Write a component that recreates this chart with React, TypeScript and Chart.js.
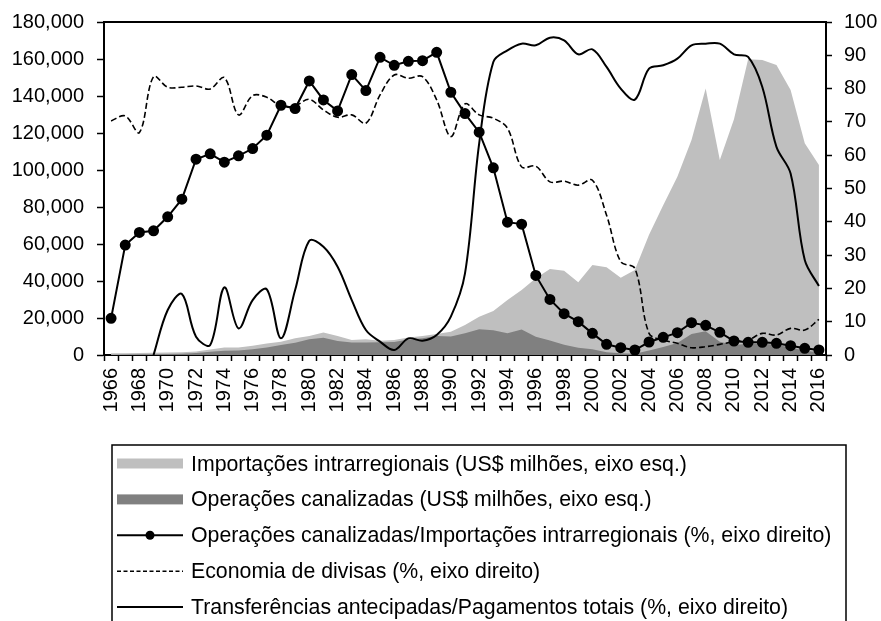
import React, { useEffect, useRef } from "react";
import { Chart, registerables } from "chart.js";

Chart.register(...registerables);

const years = [
  1966, 1967, 1968, 1969, 1970, 1971, 1972, 1973, 1974, 1975,
  1976, 1977, 1978, 1979, 1980, 1981, 1982, 1983, 1984, 1985,
  1986, 1987, 1988, 1989, 1990, 1991, 1992, 1993, 1994, 1995,
  1996, 1997, 1998, 1999, 2000, 2001, 2002, 2003, 2004, 2005,
  2006, 2007, 2008, 2009, 2010, 2011, 2012, 2013, 2014, 2015, 2016,
];

// US$ millions, left axis
const intraImports = [
  900, 1000, 1100, 1200, 1300, 1500, 1900, 3000, 4000, 4100,
  5000, 6200, 7200, 9000, 10300, 12100, 10300, 8100, 8500, 7700,
  8100, 9500, 10300, 11400, 12600, 16200, 20700, 23800, 29700, 35100,
  41500, 46500, 45600, 39300, 48600, 47400, 41800, 45900, 65000, 81000,
  96400, 116200, 144100, 105400, 127500, 159800, 159400, 156700, 143200, 114400, 102700,
];

const channeledOps = [
  100, 330, 400, 450, 540, 700, 1100, 1800, 2300, 2450,
  3100, 4100, 5400, 6600, 8500, 9300, 7600, 6800, 6700, 6900,
  7000, 8400, 9100, 10300, 10000, 11800, 13900, 13400, 11800, 13800,
  9900, 7800, 5600, 3900, 3100, 1500, 900, 700, 2500, 4300,
  6500, 11300, 12800, 7200, 5400, 6100, 6100, 5500, 4000, 2300, 1500,
];

// %, right axis
const opsShare = [
  11, 33, 36.8, 37.3, 41.5, 46.8, 58.8, 60.4, 57.9, 59.8,
  62, 66, 75, 74, 82.3, 76.6, 73.3, 84.2, 79.4, 89.4,
  87, 88.2, 88.4, 90.9, 78.9, 72.5, 66.9, 56.2, 39.9, 39.3,
  23.9, 16.7, 12.4, 10, 6.5, 3.2, 2.2, 1.5, 3.9, 5.3,
  6.7, 9.7, 8.9, 6.8, 4.2, 3.8, 3.8, 3.5, 2.8, 2, 1.5,
];

const currencySavings = [
  70.3, 71.8, 66.8, 83.6, 80.4, 80.4, 80.8, 79.9, 83.3, 72.1,
  77.9, 77.4, 74.8, 74.8, 76.8, 73.6, 71.4, 72.1, 69.6, 78.1,
  84.1, 83.1, 83.6, 76.6, 65.6, 75.4, 72.1, 71.1, 68.1, 56.5,
  56.7, 52, 52.2, 51, 52.5, 42, 28, 26, 6.5, 4.5,
  3.5, 2.2, 2.5, 3.2, 4, 4.5, 6.5, 6, 8, 7.5, 10.7,
];

const advanceTransfers = [
  null, null, null, 0, 13.5, 18.3, 5.5, 3, 20.3, 8,
  16.5, 19.7, 5, 19.5, 34.3, 32.5, 26.5, 16.5, 7.5, 4,
  1.5, 5, 4.3, 6, 11.5, 24.5, 63.5, 88, 91.5, 93.5,
  93, 95.3, 94.5, 90.3, 91.8, 86.5, 80, 76.7, 86, 87,
  89, 93, 93.5, 93.5, 90.3, 89.5, 80.5, 62.5, 54.5, 28.5, 20.7,
];

const leftTicksMax = 180000;
const rightTicksMax = 100;

const legendLabels = [
  "Importações intrarregionais (US$ milhões, eixo esq.)",
  "Operações canalizadas (US$ milhões, eixo esq.)",
  "Operações canalizadas/Importações intrarregionais (%, eixo direito)",
  "Economia de divisas (%, eixo direito)",
  "Transferências antecipadas/Pagamentos totais (%, eixo direito)",
];

const FONT = 'Arial, "Liberation Sans", sans-serif';
const W = 881;
const CH = 440;
const CANVAS_TOP = -3;

export default function App() {
  const ref = useRef<HTMLCanvasElement>(null);

  useEffect(() => {
    const canvas = ref.current;
    if (!canvas) return;
    const topBorder = {
      id: "topBorder",
      afterDraw(chart: any) {
        const { ctx, chartArea } = chart;
        ctx.save();
        ctx.strokeStyle = "#000";
        ctx.lineWidth = 2;
        ctx.beginPath();
        ctx.moveTo(chartArea.left, chartArea.top);
        ctx.lineTo(chartArea.right, chartArea.top);
        ctx.stroke();
        ctx.restore();
      },
    };
    const chart = new Chart(canvas, {
      type: "line",
      data: {
        labels: years.map(String),
        datasets: [
          {
            label: legendLabels[2],
            data: opsShare,
            yAxisID: "y1",
            borderColor: "#000",
            borderWidth: 2,
            pointRadius: 4.5,
            pointBackgroundColor: "#000",
            pointBorderColor: "#000",
            tension: 0,
            fill: false,
            order: 0,
          },
          {
            label: legendLabels[3],
            data: currencySavings,
            yAxisID: "y1",
            borderColor: "#000",
            borderWidth: 1.6,
            borderDash: [6, 3],
            pointRadius: 0,
            tension: 0.35,
            fill: false,
            order: 1,
          },
          {
            label: legendLabels[4],
            data: advanceTransfers,
            yAxisID: "y1",
            borderColor: "#000",
            borderWidth: 2,
            pointRadius: 0,
            tension: 0.35,
            fill: false,
            spanGaps: false,
            order: 2,
          },
          {
            label: legendLabels[1],
            data: channeledOps,
            yAxisID: "y",
            borderColor: "rgba(0,0,0,0)",
            borderWidth: 0,
            backgroundColor: "#808080",
            pointRadius: 0,
            tension: 0,
            fill: "origin",
            order: 3,
          },
          {
            label: legendLabels[0],
            data: intraImports,
            yAxisID: "y",
            borderColor: "rgba(0,0,0,0)",
            borderWidth: 0,
            backgroundColor: "#BFBFBF",
            pointRadius: 0,
            tension: 0,
            fill: "origin",
            order: 4,
          },
        ],
      },
      options: {
        responsive: false,
        animation: false,
        devicePixelRatio: 1,
        layout: { padding: { top: 19, left: 0, right: 0, bottom: 0 } },
        plugins: { legend: { display: false }, tooltip: { enabled: false } },
        scales: {
          x: {
            type: "category",
            offset: true,
            grid: {
              offset: true,
              display: true,
              drawOnChartArea: false,
              drawTicks: true,
              tickLength: 6,
              tickWidth: 1.5,
              tickColor: "#000",
            },
            border: { display: true, color: "#000", width: 2 },
            ticks: {
              autoSkip: false,
              maxRotation: 90,
              minRotation: 90,
              padding: 7,
              color: "#000",
              font: { family: FONT, size: 20 },
              callback: (_v: any, i: number) => (years[i] % 2 === 0 ? String(years[i]) : ""),
            },
            afterFit: (s: any) => {
              s.height = CH - (355 - CANVAS_TOP);
            },
          },
          y: {
            position: "left",
            min: 0,
            max: leftTicksMax,
            grid: {
              display: true,
              drawOnChartArea: false,
              drawTicks: true,
              tickLength: 7,
              tickWidth: 1.5,
              tickColor: "#000",
            },
            border: { display: true, color: "#000", width: 2 },
            ticks: {
              stepSize: 20000,
              padding: 13,
              color: "#000",
              font: { family: FONT, size: 20 },
              callback: (v: any) => Number(v).toLocaleString("en-US"),
            },
            afterFit: (s: any) => {
              s.width = 104;
            },
          },
          y1: {
            position: "right",
            min: 0,
            max: rightTicksMax,
            grid: {
              display: true,
              drawOnChartArea: false,
              drawTicks: true,
              tickLength: 6,
              tickWidth: 1.5,
              tickColor: "#000",
            },
            border: { display: true, color: "#000", width: 2 },
            ticks: {
              stepSize: 10,
              padding: 12,
              color: "#000",
              font: { family: FONT, size: 20 },
            },
            afterFit: (s: any) => {
              s.width = W - 826;
            },
          },
        },
      },
      plugins: [topBorder],
    });
    return () => chart.destroy();
  }, []);

  const rowY = (i: number) => 463.5 + i * 35.9;
  const symL = 117;
  const symR = 183;

  return (
    <div
      style={{
        position: "absolute",
        left: 0,
        top: 0,
        width: W,
        height: 621,
        overflow: "hidden",
        background: "#fff",
      }}
    >
      <canvas
        ref={ref}
        width={W}
        height={CH}
        style={{ position: "absolute", left: 0, top: CANVAS_TOP, width: W, height: CH }}
      />
      <svg width={W} height={621} style={{ position: "absolute", left: 0, top: 0 }}>
        <path
          d="M112 660 L112 445 L846 445 L846 660"
          fill="none"
          stroke="#000"
          strokeWidth={1.5}
        />
        <rect x={symL} y={rowY(0) - 5} width={symR - symL} height={10} fill="#BFBFBF" />
        <rect x={symL} y={rowY(1) - 5} width={symR - symL} height={10} fill="#808080" />
        <line x1={symL} y1={rowY(2)} x2={symR} y2={rowY(2)} stroke="#000" strokeWidth={2} />
        <circle cx={150} cy={rowY(2)} r={4.5} fill="#000" />
        <line
          x1={symL}
          y1={rowY(3)}
          x2={symR}
          y2={rowY(3)}
          stroke="#000"
          strokeWidth={1.5}
          strokeDasharray="4 2.5"
        />
        <line x1={symL} y1={rowY(4)} x2={symR} y2={rowY(4)} stroke="#000" strokeWidth={2} />
        {legendLabels.map((t, i) => (
          <text
            key={i}
            x={191}
            y={rowY(i)}
            dominantBaseline="central"
            fontFamily={FONT}
            fontSize={21.3}
            fill="#000"
          >
            {t}
          </text>
        ))}
      </svg>
    </div>
  );
}
